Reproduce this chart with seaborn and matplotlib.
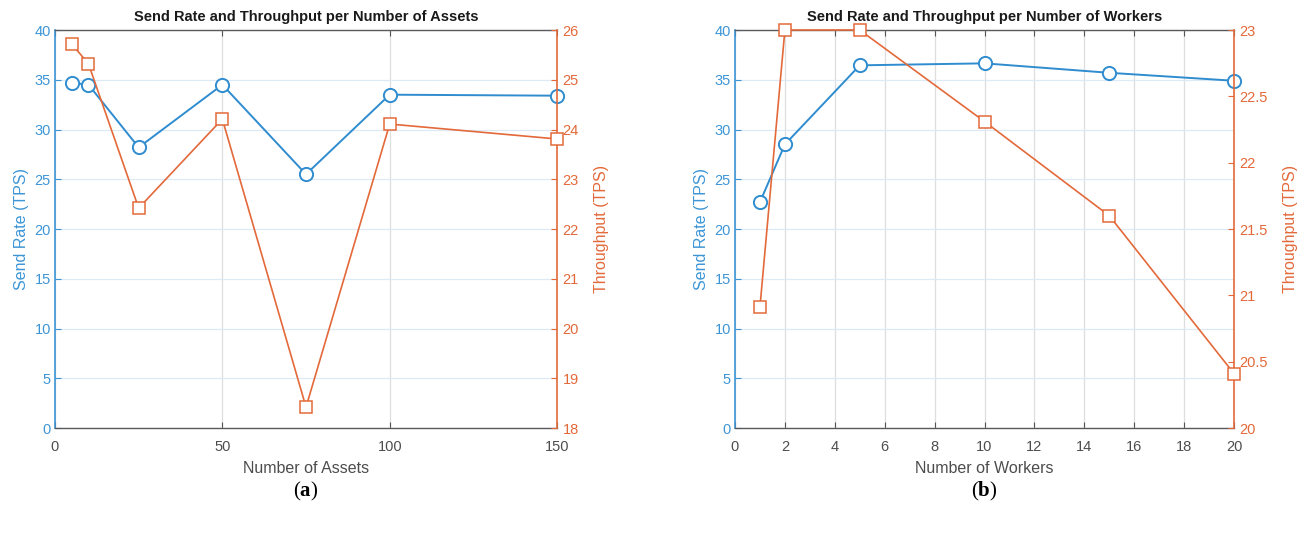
import matplotlib
matplotlib.use("Agg")
import matplotlib.pyplot as plt
import seaborn as sns
import pandas as pd

# Panel (a): varying the number of assets
assets = [5, 10, 25, 50, 75, 100, 150]
assets_send_rate = [34.7, 34.5, 28.2, 34.5, 25.5, 33.5, 33.4]
assets_throughput = [25.72, 25.32, 22.42, 24.21, 18.42, 24.11, 23.81]

# Panel (b): varying the number of workers
workers = [1, 2, 5, 10, 15, 20]
workers_send_rate = [22.7, 28.5, 36.45, 36.65, 35.7, 34.9]
workers_throughput = [20.91, 23.0, 23.0, 22.31, 21.6, 20.41]

sns.set_style("white")
plt.rcParams["font.family"] = ["Liberation Sans", "DejaVu Sans"]
plt.rcParams["mathtext.fontset"] = "custom"
plt.rcParams["mathtext.rm"] = "Liberation Serif"
plt.rcParams["mathtext.bf"] = "Liberation Serif:bold"

BLUE = "#2f8ccf"
BLUE_TXT = "#3d95d6"
ORANGE = "#e3693a"
GRAY = "#4d4d4d"
GRID_H = "#dde9f5"
GRID_V = "#dedede"

fig = plt.figure(figsize=(13.02, 5.35), dpi=100)


def panel(rect, x, send, thr, xlim, xticks, ylim2, yticks2, yticklabels2,
          xlabel, title, caption):
    ax = fig.add_axes(rect)
    df = pd.DataFrame({"x": x, "send": send, "thr": thr})
    sns.lineplot(data=df, x="x", y="send", ax=ax, color=BLUE, lw=1.4,
                 marker="o", markersize=9.5, markerfacecolor="white",
                 markeredgecolor=BLUE, markeredgewidth=1.4, clip_on=False,
                 zorder=3)
    ax.set_xlim(*xlim)
    ax.set_ylim(0, 40)
    ax.set_xticks(xticks)
    ax.set_yticks(range(0, 41, 5))
    ax.grid(axis="x", color=GRID_V, lw=0.9)
    ax.grid(axis="y", color=GRID_H, lw=0.9)
    ax.set_axisbelow(True)
    ax.tick_params(axis="x", direction="in", top=True, bottom=True,
                   length=4, width=0.8, colors="#555555",
                   labelcolor=GRAY, labelsize=10.5, pad=8.5)
    ax.tick_params(axis="y", direction="in", left=True, right=False,
                   length=4, width=0.8, colors=BLUE_TXT,
                   labelcolor=BLUE_TXT, labelsize=10.5, pad=3)
    for s in ("top", "bottom"):
        ax.spines[s].set_color("#5a5a5a")
        ax.spines[s].set_linewidth(1.0)
    ax.spines["left"].set_color(BLUE_TXT)
    ax.spines["left"].set_linewidth(1.2)
    ax.spines["right"].set_visible(False)
    ax.set_xlabel(xlabel, fontsize=11.5, color=GRAY, labelpad=5)
    ax.set_ylabel("Send Rate (TPS)", fontsize=11.5, color=BLUE_TXT,
                  labelpad=4)
    ax.set_title(title, fontsize=10.5, fontweight="bold", color="#1a1a1a",
                 pad=6.5)

    ax2 = ax.twinx()
    sns.lineplot(data=df, x="x", y="thr", ax=ax2, color=ORANGE, lw=1.2,
                 marker="s", markersize=8, markerfacecolor="white",
                 markeredgecolor=ORANGE, markeredgewidth=1.1, clip_on=False,
                 zorder=3)
    ax2.set_ylim(*ylim2)
    ax2.set_yticks(yticks2)
    ax2.set_yticklabels(yticklabels2)
    ax2.tick_params(axis="y", direction="in", right=True, length=4,
                    width=0.8, colors=ORANGE, labelcolor=ORANGE,
                    labelsize=10.5, pad=4)
    for s in ("top", "bottom", "left"):
        ax2.spines[s].set_visible(False)
    ax2.spines["right"].set_color(ORANGE)
    ax2.spines["right"].set_linewidth(1.2)
    ax2.set_ylabel("Throughput (TPS)", fontsize=11.5, color=ORANGE,
                   labelpad=10.5)
    ax2.set_xlabel("")
    ax2.grid(False)

    cx = rect[0] + rect[2] / 2
    fig.text(cx, 0.082, caption, ha="center", va="center", fontsize=15,
             color="black")
    return ax, ax2


panel([0.04224, 0.2, 0.3856, 0.7439], assets, assets_send_rate,
      assets_throughput, (0, 150), [0, 50, 100, 150], (18, 26),
      list(range(18, 27)), [str(v) for v in range(18, 27)],
      "Number of Assets",
      "Send Rate and Throughput per Number of Assets",
      r"$\mathrm{(}\mathbf{a}\mathrm{)}$")

thr_ticks = [20, 20.5, 21, 21.5, 22, 22.5, 23]
panel([0.5645, 0.2, 0.3833, 0.7439], workers, workers_send_rate,
      workers_throughput, (0, 20), list(range(0, 21, 2)), (20, 23),
      thr_ticks, ["20", "20.5", "21", "21.5", "22", "22.5", "23"],
      "Number of Workers",
      "Send Rate and Throughput per Number of Workers",
      r"$\mathrm{(}\mathbf{b}\mathrm{)}$")

fig.savefig("out.png", dpi=100, facecolor="white")
